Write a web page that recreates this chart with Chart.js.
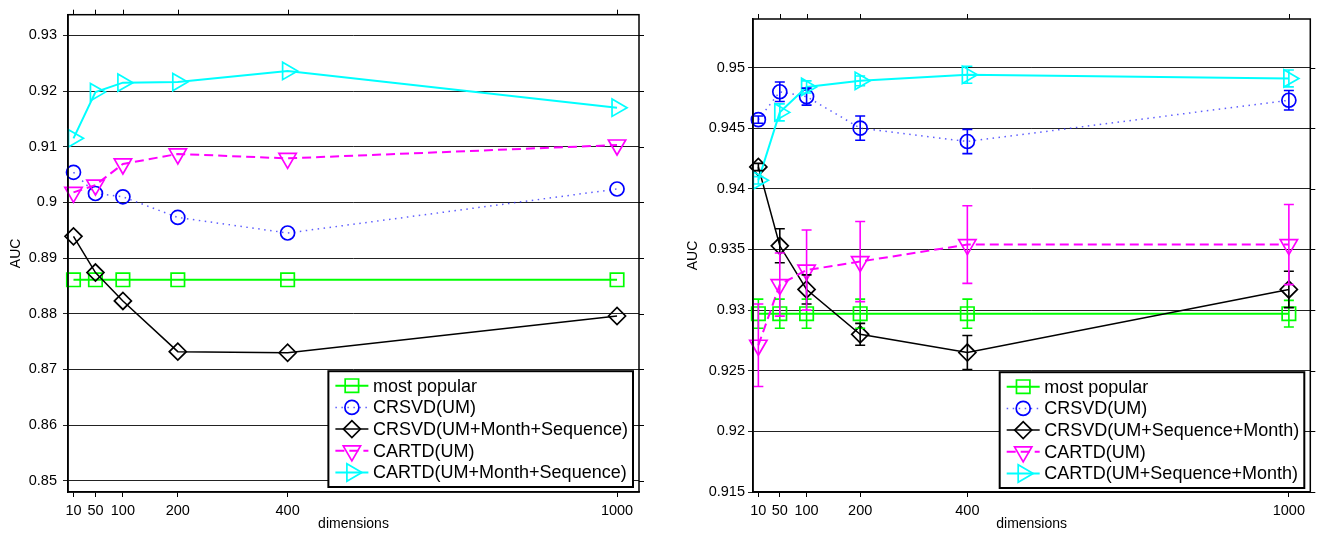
<!DOCTYPE html>
<html>
<head>
<meta charset="utf-8">
<script src="https://cdn.jsdelivr.net/npm/chart.js@4.4.1/dist/chart.umd.min.js"></script>
<style>
  html, body { margin: 0; padding: 0; background: #fff; }
  .wrap { position: absolute; top: 0; height: 534px; }
</style>
</head>
<body>
<div class="wrap" style="left:0;width:660px"><canvas id="left"></canvas></div>
<div class="wrap" style="left:660px;width:662px"><canvas id="right"></canvas></div>
<script>
// x positions (dimensions) and tick values
const dims = [10, 50, 100, 200, 400, 1000];
const xTicks = [10, 50, 100, 200, 400, 1000];
const yTicksL = [0.85, 0.86, 0.87, 0.88, 0.89, 0.9, 0.91, 0.92, 0.93];
const yTicksR = [0.915, 0.92, 0.925, 0.93, 0.935, 0.94, 0.945, 0.95];

const labelsL = ['most popular', 'CRSVD(UM)', 'CRSVD(UM+Month+Sequence)', 'CARTD(UM)', 'CARTD(UM+Month+Sequence)'];
const labelsR = ['most popular', 'CRSVD(UM)', 'CRSVD(UM+Sequence+Month)', 'CARTD(UM)', 'CARTD(UM+Sequence+Month)'];

// left panel
const popL       = [0.8861, 0.8861, 0.8861, 0.8861, 0.8861, 0.8861];
const crsvdUmL   = [0.9054, 0.9016, 0.9010, 0.8973, 0.8945, 0.9024];
const crsvdFullL = [0.8939, 0.8874, 0.8823, 0.8732, 0.8730, 0.8796];
const cartdUmL   = [0.9018, 0.9031, 0.9069, 0.9087, 0.9079, 0.9103];
const cartdFullL = [0.9115, 0.9198, 0.9215, 0.9216, 0.9236, 0.9170];

// right panel (with error bars)
const popR          = [0.9297, 0.9297, 0.9297, 0.9297, 0.9297, 0.9297];
const popErrR       = [0.0012, 0.0012, 0.0012, 0.0012, 0.0012, 0.0011];
const crsvdUmR      = [0.9457, 0.9480, 0.9476, 0.9450, 0.9439, 0.9473];
const crsvdUmErrR   = [0.0003, 0.0008, 0.0007, 0.0010, 0.0010, 0.0008];
const crsvdFullR    = [0.9418, 0.9353, 0.9317, 0.9280, 0.9265, 0.9317];
const crsvdFullErrR = [0.0003, 0.0014, 0.0012, 0.0009, 0.0014, 0.0015];
const cartdUmR      = [0.9271, 0.9321, 0.9333, 0.9340, 0.9354, 0.9354];
const cartdUmErrR   = [0.0034, 0.0026, 0.0033, 0.0033, 0.0032, 0.0033];
const cartdFullR    = [0.9407, 0.9463, 0.9484, 0.9489, 0.9494, 0.9491];
const cartdFullErrR = [0.0003, 0.0007, 0.0005, 0.0004, 0.0007, 0.0007];

const FONT = '"Liberation Sans", Arial, Helvetica, sans-serif';

// series styles
const styles = [
  { color: '#00ff00', line: '#00ff00', width: 2, dash: [], point: 'rect', radius: 9.5, rot: 0 },
  { color: '#0000ff', line: 'rgba(40,40,255,0.75)', width: 1.5, dash: [1.5, 4.5], point: 'circle', radius: 7, rot: 0 },
  { color: '#000000', line: '#000000', width: 1.5, dash: [], point: 'rectRot', radius: 8.5, rot: 0 },
  { color: '#ff00ff', line: '#ff00ff', width: 2, dash: [9, 5], point: 'triangle', radius: 10, rot: 180 },
  { color: '#00ffff', line: '#00ffff', width: 2, dash: [], point: 'triangle', radius: 10, rot: 90 }
];

function makeSets(labels, series, errors) {
  return series.map((vals, i) => {
    const s = styles[i];
    return {
      label: labels[i],
      data: dims.map((d, k) => ({ x: d, y: vals[k] })),
      errors: errors ? errors[i] : null,
      borderColor: s.line,
      borderWidth: s.width,
      borderDash: s.dash,
      backgroundColor: 'rgba(0,0,0,0)',
      pointBackgroundColor: 'rgba(0,0,0,0)',
      pointBorderColor: s.color,
      pointBorderWidth: 1.7,
      pointStyle: s.point,
      pointRadius: s.radius,
      pointRotation: s.rot,
      tension: 0,
      clip: false,
      order: 5 - i
    };
  });
}

function drawMarker(ctx, s, x, y) {
  if (Chart.helpers && Chart.helpers.drawPoint) {
    Chart.helpers.drawPoint(ctx, { pointStyle: s.point, radius: s.radius, rotation: s.rot, borderWidth: 1.7 }, x, y);
    return;
  }
  ctx.beginPath();
  ctx.arc(x, y, s.radius, 0, Math.PI * 2);
  ctx.stroke();
}

// error bars drawn with the chart's own scales
const errorBars = {
  id: 'errorBars',
  afterDatasetsDraw(chart) {
    const { ctx } = chart;
    const xs = chart.scales.x, ys = chart.scales.y;
    ctx.save();
    chart.data.datasets.forEach(ds => {
      if (!ds.errors) return;
      ctx.strokeStyle = ds.pointBorderColor;
      ctx.lineWidth = 1.6;
      ctx.setLineDash([]);
      ds.data.forEach((p, k) => {
        const px = xs.getPixelForValue(p.x);
        const y1 = ys.getPixelForValue(p.y - ds.errors[k]);
        const y2 = ys.getPixelForValue(p.y + ds.errors[k]);
        ctx.beginPath();
        ctx.moveTo(px, y1); ctx.lineTo(px, y2);
        ctx.moveTo(px - 5, y1); ctx.lineTo(px + 5, y1);
        ctx.moveTo(px - 5, y2); ctx.lineTo(px + 5, y2);
        ctx.stroke();
      });
    });
    ctx.restore();
  }
};

// box around plot, with outward ticks on top and right
const frame = {
  id: 'frame',
  afterDraw(chart) {
    const { ctx, chartArea: ca } = chart;
    const xs = chart.scales.x, ys = chart.scales.y;
    ctx.save();
    ctx.strokeStyle = '#000';
    ctx.lineWidth = 1;
    ctx.beginPath();
    xs.ticks.forEach(t => {
      const px = Math.round(xs.getPixelForValue(t.value)) + 0.5;
      ctx.moveTo(px, ca.top); ctx.lineTo(px, ca.top - 5);
    });
    ys.ticks.forEach(t => {
      const py = Math.round(ys.getPixelForValue(t.value)) + 0.5;
      ctx.moveTo(ca.right, py); ctx.lineTo(ca.right + 5, py);
    });
    ctx.stroke();
    ctx.lineWidth = 1.5;
    ctx.strokeRect(ca.left, ca.top, ca.right - ca.left, ca.bottom - ca.top);
    ctx.restore();
  }
};

// boxed legend inside the bottom right corner
const legendBox = {
  id: 'legendBox',
  afterDraw(chart, args, opts) {
    const { ctx, chartArea: ca } = chart;
    const sets = chart.data.datasets;
    ctx.save();
    ctx.font = '18px ' + FONT;
    const textW = Math.max(...sets.map(d => ctx.measureText(d.label).width));
    const rowH = 21.7;
    const w = 44.5 + textW + 5;
    const h = rowH * sets.length + 7.3;
    const x0 = ca.right - opts.right - w;
    const y0 = ca.bottom - opts.bottom - h;
    ctx.fillStyle = '#fff';
    ctx.fillRect(x0, y0, w, h);
    ctx.strokeStyle = '#000';
    ctx.lineWidth = 2;
    ctx.strokeRect(x0, y0, w, h);
    sets.forEach((d, i) => {
      const s = styles[i];
      const cy = y0 + 3.65 + rowH * (i + 0.5);
      ctx.strokeStyle = s.line;
      ctx.lineWidth = s.width;
      ctx.setLineDash(s.dash);
      ctx.beginPath();
      ctx.moveTo(x0 + 7, cy); ctx.lineTo(x0 + 40, cy);
      ctx.stroke();
      ctx.setLineDash([]);
      ctx.strokeStyle = s.color;
      ctx.fillStyle = 'rgba(0,0,0,0)';
      ctx.lineWidth = 1.7;
      drawMarker(ctx, s, x0 + 23.5, cy);
      ctx.fillStyle = '#000';
      ctx.textBaseline = 'middle';
      ctx.textAlign = 'left';
      ctx.fillText(d.label, x0 + 44.5, cy + 1);
    });
    ctx.restore();
  }
};

function yLabel(v) { return String(+v.toFixed(3)); }
function xLabel(v) { return String(v); }

function makeChart(id, sets, yMin, yMax, yTicks, pad, yWidth, tickPad, titlePad, legendOff) {
  return new Chart(document.getElementById(id), {
    type: 'line',
    data: { datasets: sets },
    plugins: [errorBars, frame, legendBox],
    options: {
      responsive: true,
      maintainAspectRatio: false,
      animation: false,
      events: [],
      layout: { padding: pad },
      plugins: {
        legend: { display: false },
        tooltip: { enabled: false },
        legendBox: legendOff
      },
      scales: {
        x: {
          type: 'linear',
          min: 0,
          max: 1040,
          afterBuildTicks: s => { s.ticks = xTicks.map(v => ({ value: v })); },
          afterFit: s => { s.height = 42; },
          ticks: { autoSkip: false, maxRotation: 0, color: '#000', padding: 5, font: { family: FONT, size: 14.5 }, callback: xLabel },
          grid: { drawOnChartArea: false, drawTicks: true, tickLength: 5, color: '#000', lineWidth: 1 },
          border: { display: true, color: '#000', width: 1.5 },
          title: { display: true, text: 'dimensions', color: '#000', font: { family: FONT, size: 14 }, padding: { top: 0, bottom: 1 } }
        },
        y: {
          min: yMin,
          max: yMax,
          afterBuildTicks: s => { s.ticks = yTicks.map(v => ({ value: v })); },
          afterFit: s => { s.width = yWidth; },
          ticks: { color: '#000', padding: tickPad, font: { family: FONT, size: 14.5 }, callback: yLabel },
          grid: { color: '#222', lineWidth: 1, drawTicks: true, tickLength: 5 },
          border: { display: true, color: '#000', width: 1.5 },
          title: { display: true, text: 'AUC', color: '#000', font: { family: FONT, size: 14 }, padding: { top: titlePad, bottom: 0 } }
        }
      }
    }
  });
}

makeChart('left',
  makeSets(labelsL, [popL, crsvdUmL, crsvdFullL, cartdUmL, cartdFullL], null),
  0.848, 0.9337, yTicksL,
  { top: 12, right: 21, left: 0, bottom: 0 }, 68, 6, 8, { right: 6, bottom: 5 });

makeChart('right',
  makeSets(labelsR, [popR, crsvdUmR, crsvdFullR, cartdUmR, cartdFullR],
    [popErrR, crsvdUmErrR, crsvdFullErrR, cartdUmErrR, cartdFullErrR]),
  0.915, 0.954, yTicksR,
  { top: 19, right: 6, left: 0, bottom: 0 }, 93, 3, 25, { right: 6, bottom: 4 });
</script>
</body>
</html>
